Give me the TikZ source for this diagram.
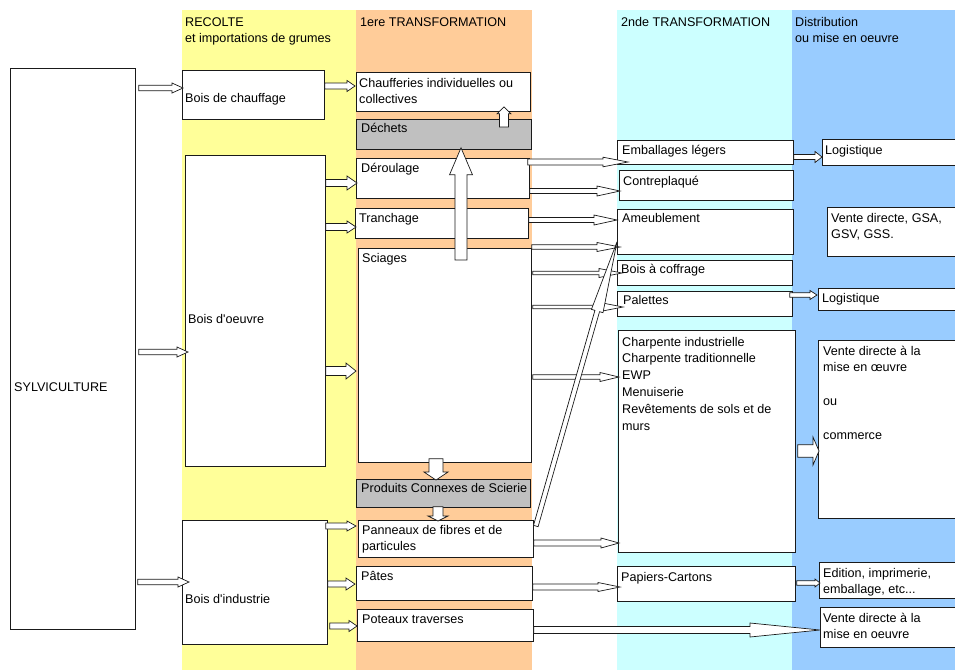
\documentclass[tikz,border=0pt]{standalone}
\usepackage{fontspec}
\setmainfont{Liberation Sans}
\usetikzlibrary{calc}
\definecolor{cyel}{HTML}{FFFF99}
\definecolor{corg}{HTML}{FFCC99}
\definecolor{ccya}{HTML}{CCFFFF}
\definecolor{cblu}{HTML}{99CCFF}
\definecolor{cgry}{HTML}{C0C0C0}
\definecolor{cline}{HTML}{1A1A1A}
\tikzset{
  box/.style={draw=cline, line width=0.8pt, fill=white, inner sep=0pt, anchor=north west},
  graybox/.style={box, fill=cgry},
  txt/.style={anchor=base west, inner sep=0pt, align=left, font=\fontsize{12.6}{16.8}\selectfont, text=black},
  barrowstyle/.style={draw=cline, line width=0.7pt, fill=white, line join=miter},
}
% box: [style]{x1}{y1}{x2}{y2}{name}
\newcommand\bx[6][]{\node[box,#1,minimum width={#4-#2},minimum height={#5-#3}] (#6) at (#2,#3) {};}
% block arrow: [style]{from}{to}{shaft half}{head half}{head length}
\newcommand\barrow[6][]{%
  \path (#2) coordinate (ba-s) (#3) coordinate (ba-e);
  \path ($(ba-e)!#6!(ba-s)$) coordinate (ba-h);
  \draw[barrowstyle,#1] ($(ba-s)!#4!90:(ba-e)$) -- ($(ba-h)!#4!-90:(ba-s)$) -- ($(ba-h)!#5!-90:(ba-s)$) -- (ba-e) -- ($(ba-h)!#5!90:(ba-s)$) -- ($(ba-h)!#4!90:(ba-s)$) -- ($(ba-s)!#4!-90:(ba-e)$) -- cycle;}
% horizontal block arrow between nodes: [style]{src}{dst}{y}{dx start}{dx end}{shaft}{head}{len}
\newcommand\harrow[9][]{\barrow[#1]{$(#2.east|-0,#4)+(#5,0)$}{$(#3.west|-0,#4)+(#6,0)$}{#7}{#8}{#9}}
\begin{document}
\begin{tikzpicture}[x=1pt,y=-1pt]
\useasboundingbox (0,0) rectangle (955,670);
\clip (0,0) rectangle (955,670);
% columns
\fill[cyel] (182,10) rectangle (356,670);
\fill[corg] (356,10) rectangle (532,670);
\fill[ccya] (617,10) rectangle (792,670);
\fill[cblu] (792,10) rectangle (960,670);
% headers (multi-line texts are placed at the baseline of their last line)
\node[txt] (h1) at (185,42.8) {RECOLTE\\et importations de grumes};
\node[txt] (h2) at (360,26) {1ere TRANSFORMATION};
\node[txt] (h3) at (621,26) {2nde TRANSFORMATION};
\node[txt] (h4) at (795,42.8) {Distribution\\ou mise en oeuvre};
% boxes
\bx{10}{68}{135}{629}{sylv}
\bx{182}{70}{324}{119}{bch}
\bx{185}{155}{325}{466}{boe}
\bx{182}{520}{327}{644}{bind}
\bx{356}{72}{530}{111}{chauf}
\bx[graybox]{356}{119}{531}{149}{dech}
\bx{356}{158}{529}{198}{derou}
\bx{355}{208}{528}{238}{tranch}
\bx{358}{248}{531}{462}{sciag}
\bx[graybox]{356}{479}{530}{507}{pcs}
\bx{358}{520}{533}{557}{pann}
\bx{356}{566}{532}{600}{pates}
\bx{357}{609}{533}{641}{poteaux}
\bx{617}{140}{793}{164}{emb}
\bx{619}{170}{793}{200}{contre}
\bx{617}{209}{793}{254}{ameub}
\bx{617}{260}{792}{285}{coff}
\bx{617}{291}{792}{316}{palet}
\bx{618}{330}{795}{552}{charp}
\bx{617}{566}{795}{601}{papier}
\bx{822}{139}{960}{165}{logA}
\bx{827}{207}{960}{256}{vdgsa}
\bx{818}{288}{960}{310}{logB}
\bx{818}{340}{960}{518}{vdmo}
\bx{819}{562}{960}{598}{edit}
\bx{820}{607}{960}{647}{vdbot}
% texts
\node[txt] (t-sylv) at (14,391) {SYLVICULTURE};
\node[txt] (t-bch) at (185,102) {Bois de chauffage};
\node[txt] (t-boe) at (188,323) {Bois d\textquotesingle oeuvre};
\node[txt] (t-bind) at (185,603) {Bois d\textquotesingle industrie};
\node[txt] (t-chauf) at (359,103.8) {Chaufferies individuelles ou\\collectives};
\node[txt] (t-dech) at (361,132) {Déchets};
\node[txt] (t-derou) at (361,172) {Déroulage};
\node[txt] (t-tranch) at (359,222) {Tranchage};
\node[txt] (t-sciag) at (362,262) {Sciages};
\node[txt] (t-pcs) at (361,492) {Produits Connexes de Scierie};
\node[txt] (t-pann) at (362,550.8) {Panneaux de fibres et de\\particules};
\node[txt] (t-pates) at (361,580) {Pâtes};
\node[txt] (t-poteaux) at (362,623) {Poteaux traverses};
\node[txt] (t-emb) at (622,154) {Emballages légers};
\node[txt] (t-contre) at (623,185) {Contreplaqué};
\node[txt] (t-ameub) at (622,222) {Ameublement};
\node[txt] (t-coff) at (621,273) {Bois à coffrage};
\node[txt] (t-palet) at (623,304) {Palettes};
\node[txt] (t-charp) at (622,430) {Charpente industrielle\\Charpente traditionnelle\\EWP\\Menuiserie\\Revêtements de sols et de\\murs};
\node[txt] (t-papier) at (621,581) {Papiers-Cartons};
\node[txt] (t-logA) at (825,154) {Logistique};
\node[txt] (t-vdgsa) at (831,238.8) {Vente directe, GSA,\\GSV, GSS.};
\node[txt] (t-logB) at (822,302) {Logistique};
\node[txt] (t-vdmo) at (823,439) {Vente directe à la\\mise en œuvre\\ \\ou\\ \\commerce};
\node[txt] (t-edit) at (823,593.8) {Edition, imprimerie,\\emballage, etc...};
\node[txt] (t-vdbot) at (823,638.8) {Vente directe à la\\mise en oeuvre};
% arrows from sylviculture
\harrow{sylv}{bch}{88}{3}{1}{2.7pt}{5pt}{11pt}
\harrow{sylv}{boe}{352}{3}{3}{2.7pt}{5pt}{11pt}
\harrow{sylv}{bind}{582}{2}{7}{2.7pt}{5pt}{11pt}
% recolte -> 1ere transformation
\harrow{bch}{chauf}{86}{0}{-1}{3pt}{5.5pt}{8pt}
\harrow{boe}{derou}{183}{0}{1}{3.5pt}{7pt}{10pt}
\harrow{boe}{tranch}{227}{0}{1}{3.5pt}{6pt}{9pt}
\harrow{boe}{sciag}{371}{0}{-2}{4.5pt}{8pt}{10pt}
\harrow{bind}{pann}{526}{-2}{-2}{3pt}{5pt}{9pt}
\harrow{bind}{pates}{584}{0}{-1}{3pt}{6pt}{9pt}
\harrow{bind}{poteaux}{626}{2}{0}{3pt}{5.5pt}{8pt}
% vertical arrows in 1ere transformation
\barrow{$(dech.north-|504,0)+(0,8)$}{$(chauf.south-|504,0)+(0,-5)$}{4.5pt}{7pt}{7pt}
\barrow{$(sciag.north-|461,0)+(0,12)$}{$(dech.south-|461,0)+(0,-2)$}{6pt}{11.5pt}{27pt}
\barrow{$(sciag.south-|436,0)+(0,-4)$}{$(pcs.north-|436,0)+(0,1)$}{7pt}{12pt}{8pt}
\barrow{$(pcs.south-|438,0)+(0,-1)$}{$(pann.north-|438,0)+(0,1)$}{5pt}{10pt}{5pt}
% 1ere -> 2nde transformation
\harrow{derou}{emb}{162}{-2}{11}{3pt}{4.8pt}{25pt}
\harrow{derou}{contre}{191}{0}{1}{2.5pt}{5pt}{23pt}
\harrow{tranch}{ameub}{220}{0}{0}{2.5pt}{5pt}{23pt}
\harrow{sciag}{ameub}{247}{0}{3}{2.2pt}{4.5pt}{23pt}
\harrow{sciag}{coff}{273}{1}{5}{1.8pt}{4.5pt}{23pt}
\harrow{sciag}{palet}{307}{1}{6}{1.8pt}{4.5pt}{23pt}
\harrow{sciag}{charp}{377}{1}{1}{2.2pt}{4.5pt}{19pt}
\harrow{pann}{charp}{543}{0}{1}{3pt}{5pt}{18pt}
\harrow{pates}{papier}{587}{0}{3}{3pt}{4.5pt}{22pt}
\harrow{poteaux}{vdbot}{630}{0}{0}{3.5pt}{7pt}{70pt}
\barrow{$(pann.north east)+(2,6)$}{$(ameub.south west)+(0,-13)$}{2.4pt}{6pt}{72pt}
% 2nde transformation -> distribution
\harrow{emb}{logA}{157}{0}{0}{2.5pt}{5.5pt}{7pt}
\harrow{palet}{logB}{295}{-3}{-1}{2.2pt}{4.5pt}{7pt}
\harrow{charp}{vdmo}{451}{2}{1}{6.3pt}{14pt}{6pt}
\harrow{papier}{edit}{583}{1}{1}{2.2pt}{4pt}{5pt}
\end{tikzpicture}
\end{document}
